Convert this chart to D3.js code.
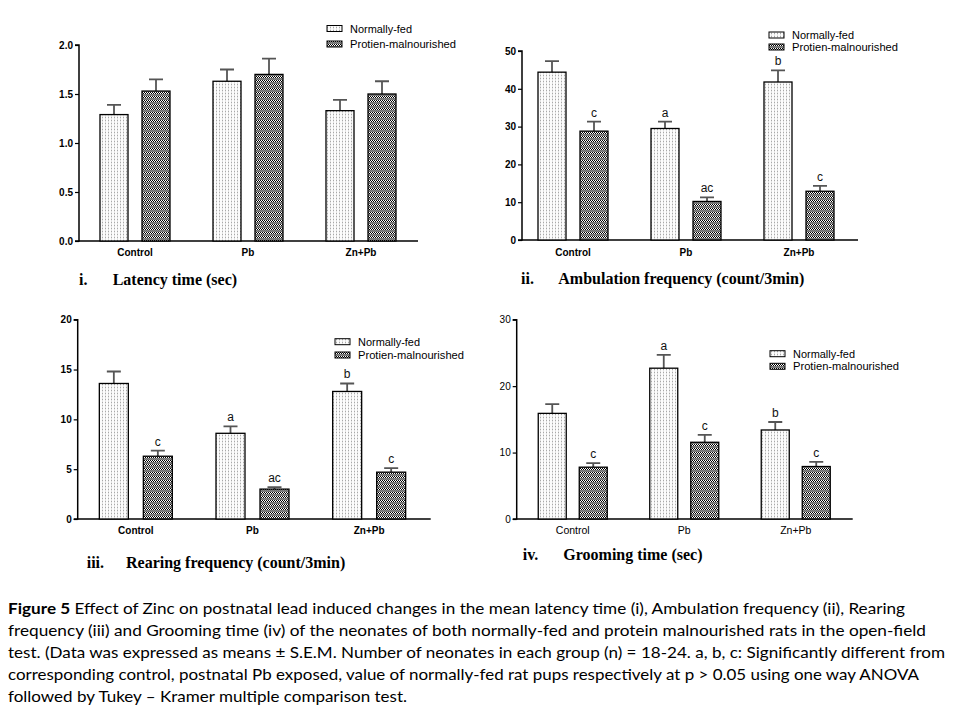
<!DOCTYPE html>
<html><head><meta charset="utf-8">
<script src="https://cdn.jsdelivr.net/npm/d3@7"></script>
<style>
body{margin:0;background:#fff;}
svg{display:block;}
</style></head>
<body>
<svg id="chart" width="954" height="712"></svg>
<script>
// ---------- DATA ----------
const groups = ["Control", "Pb", "Zn+Pb"];
const seriesNames = ["Normally-fed", "Protien-malnourished"];

const latencyNF = [1.29, 1.63, 1.33];
const latencyNFerr = [0.10, 0.12, 0.11];
const latencyPM = [1.53, 1.70, 1.50];
const latencyPMerr = [0.12, 0.16, 0.13];
const latencyNFlab = ["", "", ""];
const latencyPMlab = ["", "", ""];
const latencyTicks = [0, 0.5, 1.0, 1.5, 2.0];

const ambNF = [44.4, 29.5, 41.8];
const ambNFerr = [2.9, 1.8, 3.1];
const ambPM = [28.8, 10.2, 12.9];
const ambPMerr = [2.5, 1.1, 1.4];
const ambNFlab = ["", "a", "b"];
const ambPMlab = ["c", "ac", "c"];
const ambTicks = [0, 10, 20, 30, 40, 50];

const rearNF = [13.6, 8.6, 12.8];
const rearNFerr = [1.2, 0.7, 0.8];
const rearPM = [6.3, 3.0, 4.7];
const rearPMerr = [0.56, 0.2, 0.4];
const rearNFlab = ["", "a", "b"];
const rearPMlab = ["c", "ac", "c"];
const rearTicks = [0, 5, 10, 15, 20];

const groomNF = [15.9, 22.7, 13.4];
const groomNFerr = [1.4, 2.0, 1.2];
const groomPM = [7.8, 11.55, 7.9];
const groomPMerr = [0.6, 1.1, 0.7];
const groomNFlab = ["", "a", "b"];
const groomPMlab = ["c", "c", "c"];
const groomTicks = [0, 10, 20, 30];

const captionNums = ["i.", "ii.", "iii.", "iv."];
const captionTitles = ["Latency time (sec)", "Ambulation frequency (count/3min)", "Rearing frequency (count/3min)", "Grooming time (sec)"];

const figureLines = [
  ["Figure 5", " Effect of Zinc on postnatal lead induced changes in the mean latency time (i), Ambulation frequency (ii), Rearing"],
  ["", "frequency (iii) and Grooming time (iv) of the neonates of both normally-fed and protein malnourished rats in the open-field"],
  ["", "test. (Data was expressed as means \u00b1 S.E.M. Number of neonates in each group (n) = 18-24. a, b, c: Significantly different from"],
  ["", "corresponding control, postnatal Pb exposed, value of normally-fed rat pups respectively at p > 0.05 using one way ANOVA"],
  ["", "followed by Tukey \u2013 Kramer multiple comparison test."]
];

// ---------- SETUP ----------
const svg = d3.select("#chart");
const defs = svg.append("defs");

// Light dotted pattern (normally-fed)
const pNF = defs.append("pattern").attr("id", "patNF").attr("patternUnits", "userSpaceOnUse")
  .attr("width", 3).attr("height", 3);
pNF.append("rect").attr("width", 3).attr("height", 3).attr("fill", "#fcfcfc");
pNF.append("rect").attr("x", 0).attr("y", 0).attr("width", 1).attr("height", 3).attr("fill", "#e2e2e2");
pNF.append("rect").attr("x", 0).attr("y", 0).attr("width", 1).attr("height", 1).attr("fill", "#a8a8a8");

// Dark checker pattern (malnourished)
const pPM = defs.append("pattern").attr("id", "patPM").attr("patternUnits", "userSpaceOnUse")
  .attr("width", 2).attr("height", 4);
pPM.append("rect").attr("width", 2).attr("height", 4).attr("fill", "#ffffff");
pPM.append("rect").attr("x", 0).attr("y", 0).attr("width", 1).attr("height", 1).attr("fill", "#000");
pPM.append("rect").attr("x", 1).attr("y", 1).attr("width", 1).attr("height", 1).attr("fill", "#000");
pPM.append("rect").attr("x", 0).attr("y", 2).attr("width", 1).attr("height", 1).attr("fill", "#6a6a6a");
pPM.append("rect").attr("x", 1).attr("y", 2).attr("width", 1).attr("height", 1).attr("fill", "#8a8a8a");
pPM.append("rect").attr("x", 0).attr("y", 3).attr("width", 1).attr("height", 1).attr("fill", "#8a8a8a");
pPM.append("rect").attr("x", 1).attr("y", 3).attr("width", 1).attr("height", 1).attr("fill", "#6a6a6a");

const fills = ["url(#patNF)", "url(#patPM)"];

const panels = [
  { nf: latencyNF, nfe: latencyNFerr, pm: latencyPM, pme: latencyPMerr, nfl: latencyNFlab, pml: latencyPMlab,
    ticks: latencyTicks, fmt: d3.format(".1f"), max: 2.0,
    axisX0: 79, axisX1: 418, band: [78.5, 417.5], inner: 70, bw: 28, yBottom: 241, yTop: 45,
    bold: true, xLabY: 253,
    legX: 327, legY: 28.5, legGap: 15.5,
    capNumX: 79, capTitleX: 112.7, capY: 285 },
  { nf: ambNF, nfe: ambNFerr, pm: ambPM, pme: ambPMerr, nfl: ambNFlab, pml: ambPMlab,
    ticks: ambTicks, fmt: d3.format("d"), max: 50,
    axisX0: 522, axisX1: 858, band: [516.5, 855.5], inner: 70, bw: 28, yBottom: 240, yTop: 51,
    bold: true, xLabY: 252.5,
    legX: 769, legY: 35, legGap: 12,
    capNumX: 521, capTitleX: 558.3, capY: 283.5 },
  { nf: rearNF, nfe: rearNFerr, pm: rearPM, pme: rearPMerr, nfl: rearNFlab, pml: rearPMlab,
    ticks: rearTicks, fmt: d3.format("d"), max: 20,
    axisX0: 77.7, axisX1: 430.7, band: [77.5, 427.5], inner: 73, bw: 29, yBottom: 519, yTop: 319.7,
    bold: true, xLabY: 531,
    legX: 335, legY: 341.7, legGap: 13.3,
    capNumX: 86.7, capTitleX: 126, capY: 568 },
  { nf: groomNF, nfe: groomNFerr, pm: groomPM, pme: groomPMerr, nfl: groomNFlab, pml: groomPMlab,
    ticks: groomTicks, fmt: d3.format("d"), max: 30,
    axisX0: 516.7, axisX1: 852.7, band: [517, 851.5], inner: 69, bw: 28, yBottom: 519, yTop: 319.7,
    bold: false, xLabY: 531,
    legX: 770, legY: 353.7, legGap: 12.6,
    capNumX: 522.7, capTitleX: 563.3, capY: 560 }
];

const legendWidths = [62, 106];

panels.forEach((p, pi) => {
  const g = svg.append("g");
  const x = d3.scaleBand().domain(groups).range(p.band).paddingInner(0).paddingOuter(0);
  const inner = d3.scaleBand().domain([0, 1]).range([-p.inner / 2, p.inner / 2])
    .paddingInner((p.inner - 2 * p.bw) / (p.inner - p.bw));
  const y = d3.scaleLinear().domain([0, p.max]).range([p.yBottom, p.yTop]);
  const tickFont = p.bold ? "bold" : "normal";

  // Y axis
  const yAxis = d3.axisLeft(y).tickValues(p.ticks).tickFormat(p.fmt).tickSize(4).tickPadding(2);
  const ya = g.append("g").attr("transform", `translate(${p.axisX0},0)`).call(yAxis);
  ya.select(".domain").attr("stroke", "#000").attr("stroke-width", 1.5).attr("d", `M-4,${p.yBottom}H0V${p.yTop}H-4`);
  ya.selectAll(".tick line").attr("stroke", "#000").attr("stroke-width", 1.2);
  ya.selectAll(".tick text").attr("font-family", "Arial, 'Liberation Sans', sans-serif")
    .attr("font-size", 10).attr("font-weight", tickFont).attr("fill", "#000");

  // X axis line
  const xAxis = d3.axisBottom(x).tickSize(0).tickPadding(0);
  const xa = g.append("g").attr("transform", `translate(0,${p.yBottom})`).call(xAxis);
  xa.select(".domain").attr("stroke", "#000").attr("stroke-width", 1.5).attr("d", `M${p.axisX0},0H${p.axisX1}`);
  xa.selectAll(".tick text").attr("y", p.xLabY - p.yBottom).attr("dy", "0.32em")
    .attr("font-family", "Arial, 'Liberation Sans', sans-serif")
    .attr("font-size", p.bold ? 10 : 10.5).attr("font-weight", tickFont).attr("fill", "#000");

  // bars
  const data = [];
  groups.forEach((grp, i) => {
    data.push({ grp, s: 0, v: p.nf[i], e: p.nfe[i], lab: p.nfl[i] });
    data.push({ grp, s: 1, v: p.pm[i], e: p.pme[i], lab: p.pml[i] });
  });
  const cx = d => x(d.grp) + x.bandwidth() / 2 + inner(d.s);

  // error bars (upper only)
  g.selectAll(".err").data(data).join("path").attr("class", "err")
    .attr("d", d => {
      const c = cx(d) + p.bw / 2;
      return `M${c},${y(d.v)}V${y(d.v + d.e)}M${c - 7},${y(d.v + d.e)}H${c + 7}`;
    })
    .attr("stroke", "#555").attr("stroke-width", 1.8).attr("fill", "none");

  g.selectAll(".bar").data(data).join("rect").attr("class", "bar")
    .attr("x", d => cx(d)).attr("width", p.bw)
    .attr("y", d => y(d.v)).attr("height", d => y(0) - y(d.v))
    .attr("fill", d => fills[d.s]).attr("stroke", "#000").attr("stroke-width", 1.3);

  // significance letters
  g.selectAll(".sig").data(data.filter(d => d.lab)).join("text").attr("class", "sig")
    .attr("x", d => cx(d) + p.bw / 2).attr("y", d => y(d.v + d.e) - 5)
    .attr("text-anchor", "middle").attr("font-family", "Arial, 'Liberation Sans', sans-serif")
    .attr("font-size", 12).attr("fill", "#111").text(d => d.lab);

  // legend
  seriesNames.forEach((name, i) => {
    const ly = p.legY + i * p.legGap;
    g.append("rect").attr("x", p.legX).attr("y", ly - 3).attr("width", 15).attr("height", 6)
      .attr("fill", fills[i]).attr("stroke", "#000").attr("stroke-width", 1);
    g.append("text").attr("x", p.legX + 23).attr("y", ly + 4)
      .attr("font-family", "Arial, 'Liberation Sans', sans-serif").attr("font-size", 10.5)
      .attr("fill", "#000").attr("textLength", legendWidths[i]).attr("lengthAdjust", "spacingAndGlyphs")
      .text(name);
  });

  // caption
  g.append("text").attr("x", p.capNumX).attr("y", p.capY)
    .attr("font-family", "'Liberation Serif', 'Times New Roman', serif").attr("font-weight", "bold")
    .attr("font-size", 16).attr("fill", "#000").text(captionNums[pi]);
  g.append("text").attr("x", p.capTitleX).attr("y", p.capY)
    .attr("font-family", "'Liberation Serif', 'Times New Roman', serif").attr("font-weight", "bold")
    .attr("font-size", 16).attr("fill", "#000").text(captionTitles[pi]);
});

// figure caption
const lineEnds = [905, 926, 945, 919, 407];
figureLines.forEach((ln, i) => {
  const t = svg.append("text").attr("x", 8).attr("y", 614 + i * 22)
    .attr("font-family", "Lato, 'Open Sans', sans-serif").attr("font-size", 16).attr("fill", "#000");
  if (ln[0]) t.append("tspan").attr("font-weight", "bold").text(ln[0]);
  t.append("tspan").text(ln[1]);
  t.attr("textLength", lineEnds[i] - 8).attr("lengthAdjust", "spacingAndGlyphs");
});
</script>
</body></html>
